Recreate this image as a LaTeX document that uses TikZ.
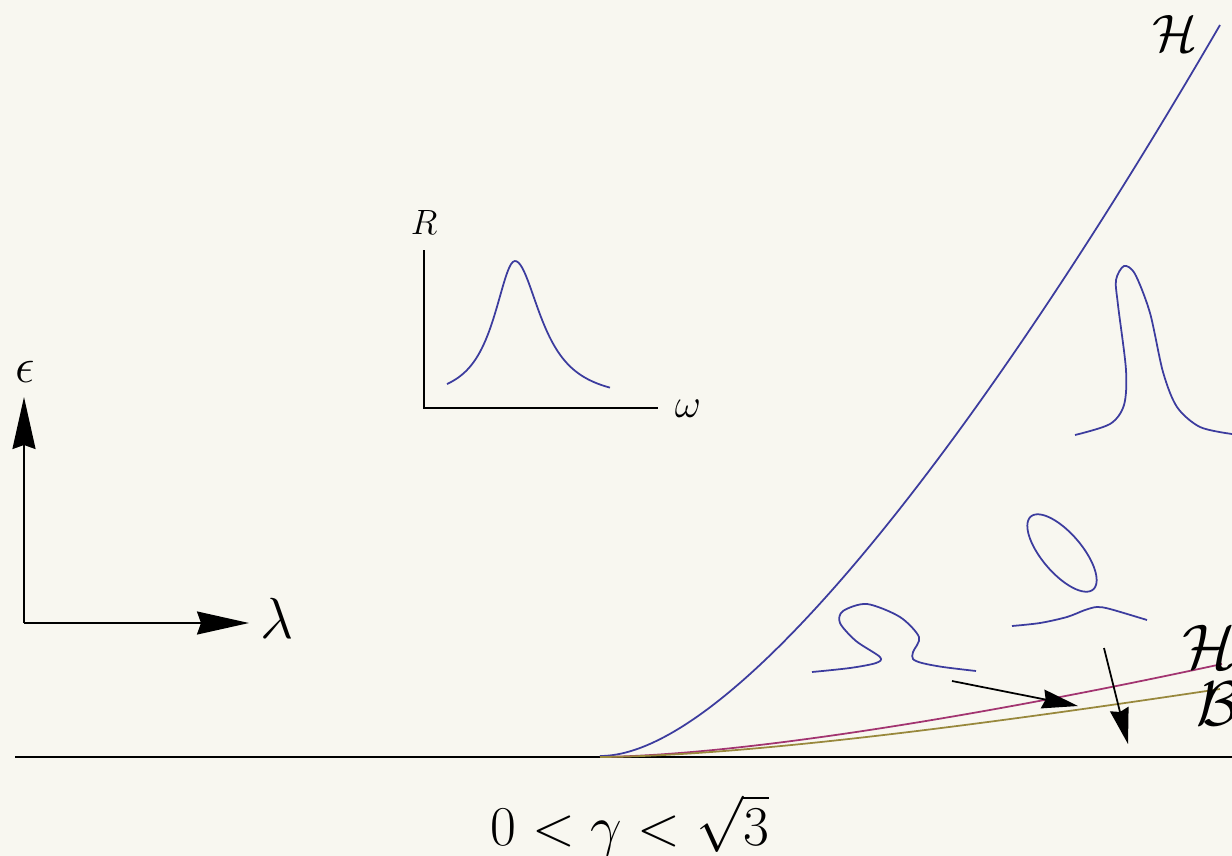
\documentclass[tikz,border=0pt]{standalone}
\usepackage{fix-cm}
\usepackage{amsmath}
\usepackage{xcolor}
\usepackage{tikz}
\usetikzlibrary{positioning, arrows.meta}
\definecolor{paper}{RGB}{248,247,240}
\definecolor{lineblue}{RGB}{60,60,158}
\definecolor{linemag}{RGB}{162,52,112}
\definecolor{lineolive}{RGB}{152,136,60}

\begin{document}
\begin{tikzpicture}[x=0.02cm, y=-0.02cm,
  curve/.style={line width=1pt, draw=lineblue},
  axis/.style={line width=1.1pt},
  bigarrow/.style={-{Stealth[length=1.04cm, width=0.46cm, inset=0.08cm]}, line width=1.1pt},
  smallarrow/.style={-{Stealth[length=0.72cm, width=0.38cm, inset=0.06cm]}, line width=1pt},
  lbl/.style={inner sep=0pt}
]
\fill[paper] (0,0) rectangle (1232,856);
\useasboundingbox (0,0) rectangle (1232,856);
\clip (0,0) rectangle (1232,856);

\coordinate (bl) at (15,757);
\coordinate (br) at (1232,757);
\draw[axis] (bl) -- (br);

\coordinate (orig) at (24,623);
\coordinate (etip) at (24,397);
\coordinate (ltip) at (249,623);
\draw[bigarrow] (orig) -- (etip);
\draw[bigarrow] (orig) -- (ltip);
\node[lbl] (eps) at (25,372) {\fontsize{28}{28}\selectfont$\epsilon$};
\node[lbl] (lam) at (277,618) {\fontsize{33}{33}\selectfont$\lambda$};

\coordinate (rtop) at (424,250);
\coordinate (rorig) at (424,408);
\coordinate (wend) at (658,408);
\draw[line width=0.8pt] (rtop) -- (rorig) -- (wend);
\node[lbl] (R) at (424,222) {\fontsize{20}{20}\selectfont$R$};
\node[lbl] (om) at (688,409) {\fontsize{23}{23}\selectfont$\omega$};
\draw[curve] plot[domain=447:610, samples=90, smooth]
  (\x, {402 - 141/(1+((\x-515)/(26*(\x<515)+32*(\x>=515)))^2)});

\draw[curve] (600,756) .. controls (730,756) and (970,455) .. (1220,25);
\draw[line width=1pt, draw=linemag] (600,757) .. controls (750,755) and (1000,712) .. (1222,664);
\draw[line width=1pt, draw=lineolive] (600,757) .. controls (750,756) and (1000,722) .. (1220,689);

\node[lbl] (Htop) at (1175,33) {\fontsize{30}{30}\selectfont$\mathcal{H}$};
\node[lbl, anchor=west] (Hlow) at (1182,647) {\fontsize{36}{36}\selectfont$\mathcal{H}$};
\node[lbl, anchor=west] (Blow) at (1196,704) {\fontsize{36}{36}\selectfont$\mathcal{B}$};

\draw[curve] plot[smooth] coordinates {(1075,435) (1110,424) (1124,405) (1126,370)
  (1118,305) (1116,280) (1124,266) (1135,274) (1150,313) (1163,372) (1177,407)
  (1200,427) (1232,434)};

\draw[curve] plot[variable=\t, domain=0:360, samples=73, smooth]
  ({1062 + 48*cos(\t)*0.649 - 20*sin(\t)*0.760}, {553 + 48*cos(\t)*0.760 + 20*sin(\t)*0.649});
\draw[curve] plot[smooth] coordinates {(1012,626) (1040,623) (1067,617) (1085,610)
  (1097,607) (1110,609) (1147,620)};

\draw[curve] plot[smooth] coordinates {(812,672) (850,668) (876,663) (880,657)
  (856,641) (840,623) (843,611) (867,604) (900,617) (919,637) (913,652) (913,659)
  (922,663) (943,667) (976,671)};

\coordinate (a1s) at (952,681);
\coordinate (a1e) at (1078,706);
\coordinate (a2s) at (1104,648);
\coordinate (a2e) at (1128,744);
\draw[smallarrow] (a1s) -- (a1e);
\draw[smallarrow] (a2s) -- (a2e);

\node[lbl, anchor=base] (range) at (630,845) {\fontsize{32}{38}\selectfont$0<\gamma<\sqrt{3}$};
\end{tikzpicture}
\end{document}
